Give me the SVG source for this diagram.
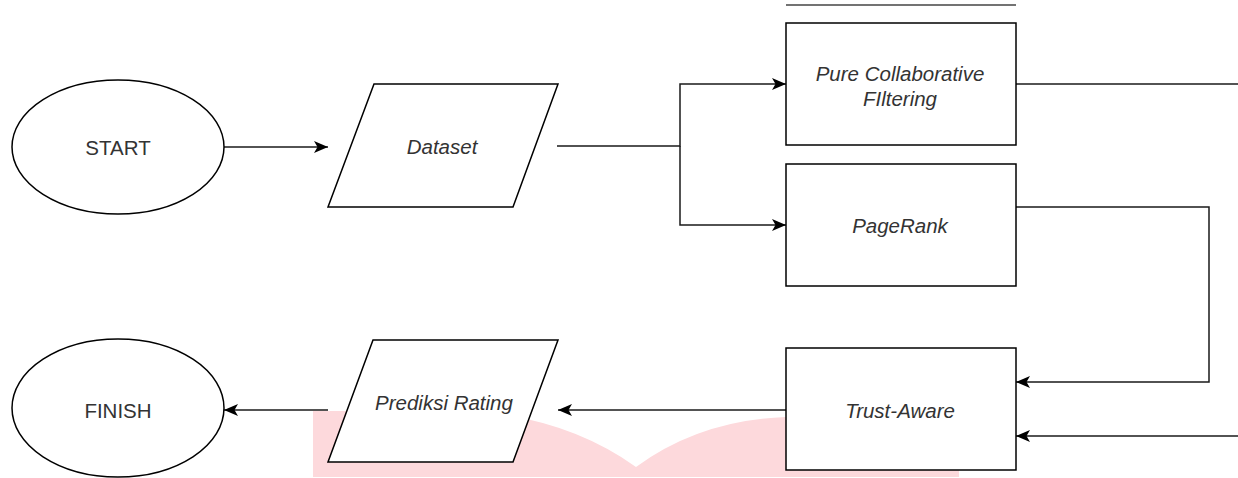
<svg xmlns="http://www.w3.org/2000/svg" width="1238" height="478" viewBox="0 0 1238 478">
  <defs>
    <marker id="arrow" markerUnits="userSpaceOnUse" markerWidth="14" markerHeight="14" viewBox="0 0 14 14" refX="14" refY="7" orient="auto">
      <path d="M0,1 L14,7 L0,13 L3.5,7 Z" fill="#000"/>
    </marker>
    <style>
      .shape { fill: #fff; stroke: #000; stroke-width: 1.5; }
      .edge { fill: none; stroke: #1a1a1a; stroke-width: 1.5; }
      .label { font-family: "Liberation Sans", Arial, sans-serif; font-size: 20.5px; fill: #333; text-anchor: middle; dominant-baseline: central; }
      .it { font-style: italic; }
    </style>
  </defs>

  <rect width="1238" height="478" fill="#fff"/>

  <!-- pale pink backdrop along the bottom -->
  <path d="M313,411 L455,411 Q560,413 636,467 Q700,420 786,417 L959,416 L959,477 L313,477 Z" fill="#fdd9dc"/>

  <!-- stray rule above the top box -->
  <line x1="786" y1="5" x2="1016" y2="5" stroke="#444" stroke-width="1.3"/>

  <g id="connectors">
    <path class="edge" d="M224,147 L328,147" marker-end="url(#arrow)"/>
    <path class="edge" d="M557,146 L680,146 L680,84 L786,84" marker-end="url(#arrow)"/>
    <path class="edge" d="M680,146 L680,225 L786,225" marker-end="url(#arrow)"/>
    <path class="edge" d="M1016,84 L1238,84"/>
    <path class="edge" d="M1016,207 L1209,207 L1209,382 L1016,382" marker-end="url(#arrow)"/>
    <path class="edge" d="M1238,436 L1016,436" marker-end="url(#arrow)"/>
    <path class="edge" d="M786,410 L558,410" marker-end="url(#arrow)"/>
    <path class="edge" d="M328,410 L224,410" marker-end="url(#arrow)"/>
  </g>

  <g id="start">
    <ellipse class="shape" cx="118" cy="147" rx="106" ry="67"/>
    <text class="label" x="118" y="147">START</text>
  </g>

  <g id="dataset">
    <polygon class="shape" points="374,84 558,84 513,207 328,207"/>
    <text class="label it" x="442" y="146">Dataset</text>
  </g>

  <g id="pure-cf">
    <rect class="shape" x="786" y="23" width="230" height="122"/>
    <text class="label it" x="900" y="73">Pure Collaborative</text>
    <text class="label it" x="900" y="98">FIltering</text>
  </g>

  <g id="pagerank">
    <rect class="shape" x="786" y="164" width="230" height="122"/>
    <text class="label it" x="900" y="225">PageRank</text>
  </g>

  <g id="trust-aware">
    <rect class="shape" x="786" y="348" width="230" height="122"/>
    <text class="label it" x="900" y="410">Trust-Aware</text>
  </g>

  <g id="prediksi-rating">
    <polygon class="shape" points="373,340 558,340 513,462 328,462"/>
    <text class="label it" x="444" y="402">Prediksi Rating</text>
  </g>

  <g id="finish">
    <ellipse class="shape" cx="118" cy="408" rx="106" ry="69"/>
    <text class="label" x="118" y="410">FINISH</text>
  </g>
</svg>
